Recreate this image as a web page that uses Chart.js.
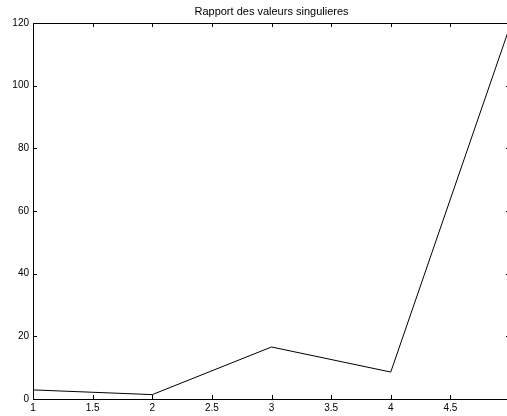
<!DOCTYPE html>
<html>
<head>
<meta charset="utf-8">
<script src="https://cdn.jsdelivr.net/npm/chart.js@4/dist/chart.umd.min.js"></script>
<style>
  html, body { margin: 0; padding: 0; background: #fff; overflow: hidden; }
  #wrap { position: relative; width: 520px; height: 416px; }
</style>
</head>
<body>
<div id="wrap"><canvas id="c" width="520" height="416"></canvas></div>
<script>
// Singular value ratio for each index
const indices = [1, 2, 3, 4, 5];
const ratios = [2.9, 1.4, 16.6, 8.6, 119];
const xTicks = [1, 1.5, 2, 2.5, 3, 3.5, 4, 4.5, 5];
const yTicks = [0, 20, 40, 60, 80, 100, 120];
const titleText = 'Rapport des valeurs singulieres';

const FONT = '"Liberation Sans", Arial, Helvetica, sans-serif';
const fmt = v => String(Math.round(v * 10) / 10);

// Boxed axes with inward ticks on all four sides, title centred over the axes
const boxTicks = {
  id: 'boxTicks',
  afterDatasetsDraw(chart) {
    const { ctx, chartArea: a, scales } = chart;
    const len = 4;
    ctx.save();
    ctx.strokeStyle = '#000';
    ctx.lineWidth = 1;
    ctx.beginPath();
    ctx.rect(Math.round(a.left) + 0.5, Math.round(a.top) + 0.5,
             Math.round(a.right - a.left), Math.round(a.bottom - a.top));
    ctx.stroke();
    ctx.beginPath();
    scales.x.ticks.forEach(t => {
      const px = Math.round(scales.x.getPixelForValue(t.value)) + 0.5;
      ctx.moveTo(px, a.bottom); ctx.lineTo(px, a.bottom - len);
      ctx.moveTo(px, a.top); ctx.lineTo(px, a.top + len);
    });
    scales.y.ticks.forEach(t => {
      const py = Math.round(scales.y.getPixelForValue(t.value)) + 0.5;
      ctx.moveTo(a.left, py); ctx.lineTo(a.left + len, py);
      ctx.moveTo(a.right, py); ctx.lineTo(a.right - len, py);
    });
    ctx.stroke();

    ctx.fillStyle = '#000';
    ctx.font = '11px ' + FONT;
    ctx.textAlign = 'center';
    ctx.textBaseline = 'middle';
    ctx.fillText(titleText, (a.left + a.right) / 2, 11.5);
    ctx.restore();
  }
};

new Chart(document.getElementById('c'), {
  type: 'line',
  data: {
    datasets: [{
      data: indices.map((x, i) => ({ x, y: ratios[i] })),
      borderColor: '#000',
      borderWidth: 1,
      pointRadius: 0,
      tension: 0,
      fill: false
    }]
  },
  options: {
    responsive: false,
    animation: false,
    devicePixelRatio: 1,
    layout: { padding: { top: 23, right: 10, bottom: 0, left: 0 } },
    plugins: {
      legend: { display: false },
      tooltip: { enabled: false },
      title: { display: false }
    },
    scales: {
      x: {
        type: 'linear',
        min: 1, max: 5,
        afterBuildTicks(s) { s.ticks = xTicks.map(v => ({ value: v })); },
        afterFit(s) { s.height = 17; },
        grid: { display: false, drawTicks: false },
        border: { display: false },
        ticks: {
          color: '#000',
          font: { family: FONT, size: 10 },
          padding: 3,
          maxRotation: 0,
          autoSkip: false,
          callback: v => fmt(v)
        }
      },
      y: {
        type: 'linear',
        min: 0, max: 120,
        afterBuildTicks(s) { s.ticks = yTicks.map(v => ({ value: v })); },
        afterFit(s) { s.width = 33; },
        grid: { display: false, drawTicks: false },
        border: { display: false },
        ticks: {
          color: '#000',
          font: { family: FONT, size: 10 },
          padding: 4,
          callback: v => fmt(v)
        }
      }
    }
  },
  plugins: [boxTicks]
});
</script>
</body>
</html>
